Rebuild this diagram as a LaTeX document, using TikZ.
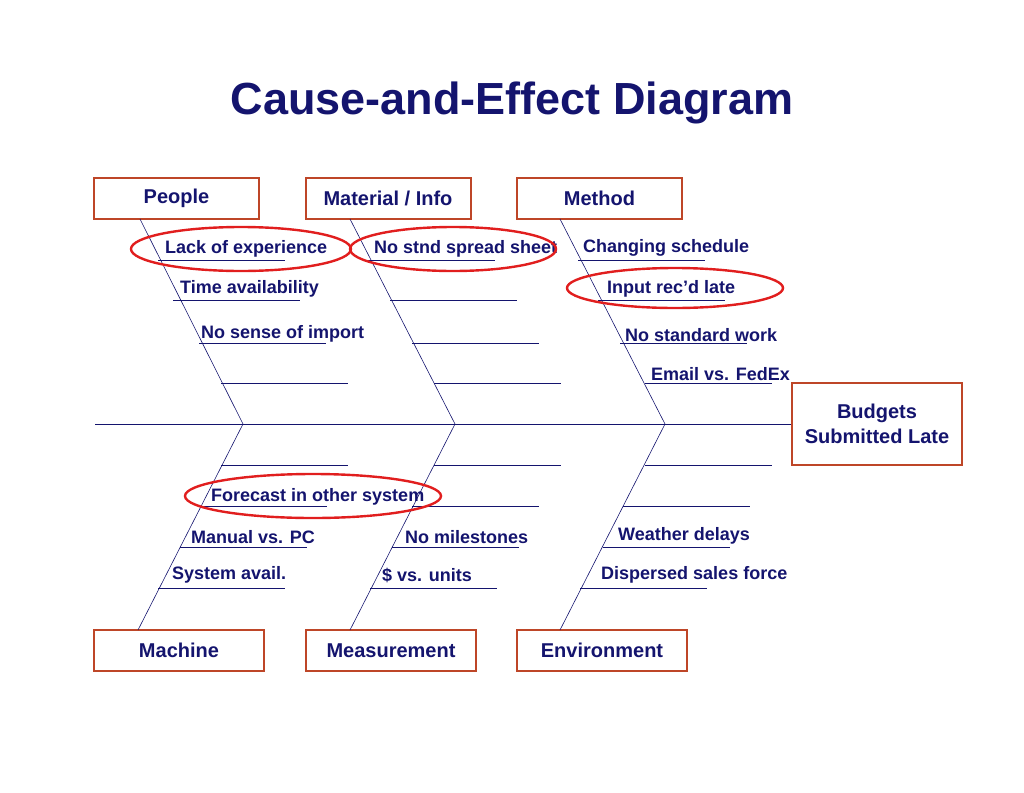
\documentclass[tikz,border=0pt]{standalone}
\usepackage{fontspec}
\setmainfont{Liberation Sans}
\definecolor{navy}{RGB}{20,20,110}
\definecolor{boxred}{RGB}{190,70,40}
\definecolor{ringred}{RGB}{225,30,30}
\tikzset{
  catbox/.style={draw=boxred, line width=2pt, text=navy, font=\fontsize{20}{24}\selectfont\bfseries, minimum width=165pt, minimum height=41pt, inner sep=0pt},
  bone/.style={draw=navy, line width=0.6pt},
  cause/.style={anchor=south west, text=navy, font=\fontsize{18}{21}\selectfont\bfseries, inner sep=2pt},
  ring/.style={draw=ringred, line width=2.4pt}
}
\begin{document}
\begin{tikzpicture}[x=1pt,y=-1pt]
  \useasboundingbox (0,0) rectangle (1024,792);
  \node (title) at (512,103) [text=navy, font=\fontsize{45}{52}\selectfont\bfseries] {Cause-and-Effect Diagram};
  % category boxes
  \node (people) at (176.5,198.5) [catbox] {People};
  \node (material) at (388,198.5) [catbox] {Material / Info};
  \node (method) at (599.5,198.5) [catbox] {Method};
  \node (machine) at (179,650.5) [catbox, minimum width=170pt] {Machine};
  \node (measure) at (391,650.5) [catbox, minimum width=170pt] {Measurement};
  \node (environ) at (602,650.5) [catbox, minimum width=170pt] {Environment};
  \node (effect) at (877,424) [catbox, minimum width=170pt, minimum height=82pt, align=center, font=\fontsize{20}{25}\selectfont\bfseries] {Budgets\\Submitted Late};
  % spine and bones
  \coordinate (tail) at (95,424);
  \coordinate (j1) at (243,424);
  \coordinate (j2) at (455,424);
  \coordinate (j3) at (665,424);
  \draw [bone] (tail) -- (effect.west);
  \draw [bone] (140,219) -- (j1) -- (138,630);
  \draw [bone] (350,219) -- (j2) -- (350,630);
  \draw [bone] (560,219) -- (j3) -- (560,630);
  % underlines
  \foreach \x/\y in {158/260, 173/300, 199/343, 221/383, 368/260, 390/300, 412/343, 434/383,
                     578/260, 598/300, 620/343, 645/383, 221/465, 200/506, 180/547, 158/588,
                     434/465, 412/506, 392/547, 370/588, 645/465, 623/506, 603/547, 580/588}
  {
    \draw [bone] (\x,\y) -- ++(127,0);
  }
  % causes
  \node (c1) at (163,259) [cause] {Lack of experience};
  \node (c2) at (178,299) [cause] {Time availability};
  \node (c3) at (199,344) [cause] {No sense of import};
  \node (c4) at (372,259) [cause] {No stnd spread sheet};
  \node (c5) at (581,259) [cause] {Changing schedule};
  \node (c6) at (605,299) [cause] {Input rec'd late};
  \node (c7) at (623,344) [cause] {No standard work};
  \node (c8) at (649,383) [cause] {Email vs. FedEx};
  \node (c9) at (209,507) [cause] {Forecast in other system};
  \node (c10) at (189,546) [cause] {Manual vs. PC};
  \node (c11) at (170,585) [cause] {System avail.};
  \node (c12) at (403,546) [cause] {No milestones};
  \node (c13) at (380,585) [cause] {\$ vs. units};
  \node (c14) at (616,546) [cause] {Weather delays};
  \node (c15) at (599,585) [cause] {Dispersed sales force};
  % highlighted causes
  \draw [ring] (241,249) ellipse [x radius=110, y radius=22];
  \draw [ring] (453,249) ellipse [x radius=103, y radius=22];
  \draw [ring] (675,288) ellipse [x radius=108, y radius=20];
  \draw [ring] (313,496) ellipse [x radius=128, y radius=22];
\end{tikzpicture}
\end{document}
